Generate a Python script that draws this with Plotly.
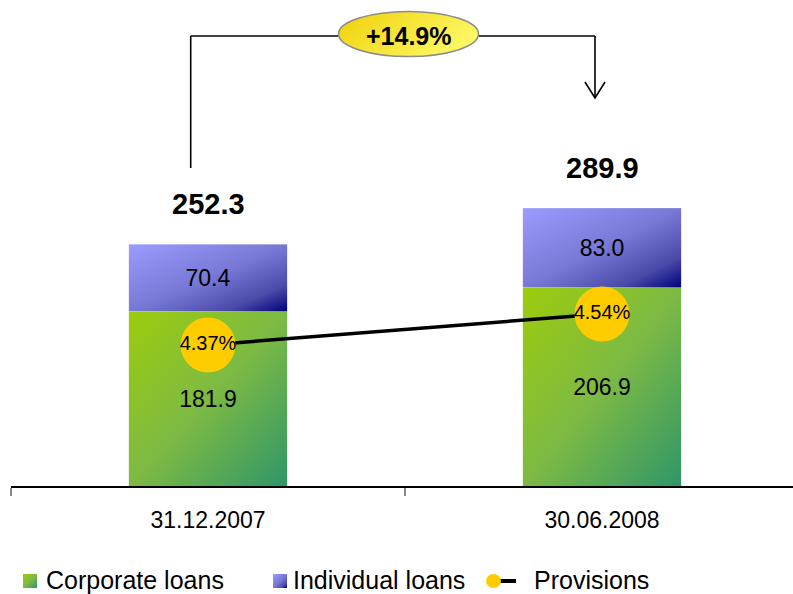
import base64
import plotly.graph_objects as go

# Loan portfolio by date (bn), with provisions ratio (%)
dates = ["31.12.2007", "30.06.2008"]
corporate = [181.9, 206.9]
individual = [70.4, 83.0]
provisions = [4.37, 4.54]

totals = [c + i for c, i in zip(corporate, individual)]
growth = (totals[-1] / totals[0] - 1) * 100

FONT = "Arial, Liberation Sans, sans-serif"
W, H = 793, 594
ML, MR, MT, MB = 11, 0, 0, 108
PW, PH = W - ML - MR, H - MT - MB
CAT_W = 394  # pixel width of one category slot
BAR_W = 0.403


def px(xp):
    return (xp - ML) / PW


def py(yp):
    return (MT + PH - yp) / PH


def svg_uri(svg):
    return "data:image/svg+xml;base64," + base64.b64encode(svg.encode()).decode()


def diag_gradient(stops):
    st = "".join(f"<stop offset='{o}' stop-color='{c}'/>" for o, c in stops)
    svg = ("<svg xmlns='http://www.w3.org/2000/svg' viewBox='0 0 100 100' "
           "width='100' height='100' preserveAspectRatio='none'>"
           "<defs><linearGradient id='g' x1='0' y1='0' x2='1' y2='1'>" + st +
           "</linearGradient></defs><rect width='100' height='100' fill='url(#g)'/></svg>")
    return svg_uri(svg)


GREEN = diag_gradient([(0, "#9ccc0c"), (0.5, "#7dba44"), (1, "#2f9669")])
PURPLE = diag_gradient([(0, "#9c9cff"), (0.5, "#7878d6"), (0.8, "#4a4aa8"), (1, "#00007e")])

ellipse_svg = (
    "<svg xmlns='http://www.w3.org/2000/svg' viewBox='0 0 144 48' width='144' height='48' "
    "preserveAspectRatio='none'><defs><linearGradient id='e' x1='0' y1='0.3' x2='1' y2='0.7'>"
    "<stop offset='0' stop-color='#f0d411'/><stop offset='1' stop-color='#fffb6a'/>"
    "</linearGradient></defs><ellipse cx='72' cy='24' rx='70.5' ry='22.5' fill='url(#e)' "
    "stroke='#8c8c8c' stroke-width='1.6'/></svg>")

fig = go.Figure()

fig.add_trace(go.Bar(
    x=dates, y=corporate, name="Corporate loans",
    marker=dict(color="rgba(0,0,0,0)", line=dict(width=0)),
    text=[f"{v:.1f}" for v in corporate], textposition="inside",
    insidetextanchor="middle", textangle=0, constraintext="none",
    textfont=dict(family=FONT, size=23, color="black"),
    showlegend=False, hoverinfo="skip",
))
fig.add_trace(go.Bar(
    x=dates, y=individual, name="Individual loans",
    marker=dict(color="rgba(0,0,0,0)", line=dict(width=0)),
    text=[f"{v:.1f}" for v in individual], textposition="inside",
    insidetextanchor="middle", textangle=0, constraintext="none",
    textfont=dict(family=FONT, size=23, color="black"),
    showlegend=False, hoverinfo="skip",
))
fig.add_trace(go.Scatter(
    x=dates, y=provisions, yaxis="y2", name="Provisions",
    mode="lines+markers+text",
    line=dict(color="black", width=3.5),
    marker=dict(size=55, color="#ffcc00", line=dict(width=0)),
    text=[f"{v:.2f}%" for v in provisions], textposition="middle center",
    textfont=dict(family=FONT, size=20, color="black"),
    showlegend=False, hoverinfo="skip",
))

# Gradient fills for the stacked bars, sized in data units
images = []
for i in range(len(dates)):
    images.append(dict(source=GREEN, xref="x", yref="y", x=i - BAR_W / 2, y=corporate[i],
                       sizex=BAR_W, sizey=corporate[i], sizing="stretch",
                       xanchor="left", yanchor="top", layer="below"))
    images.append(dict(source=PURPLE, xref="x", yref="y", x=i - BAR_W / 2, y=totals[i],
                       sizex=BAR_W, sizey=individual[i], sizing="stretch",
                       xanchor="left", yanchor="top", layer="below"))

# Growth bubble
images.append(dict(source=svg_uri(ellipse_svg), xref="paper", yref="paper",
                   x=px(337), y=py(10), sizex=143 / PW, sizey=48 / PH,
                   sizing="stretch", xanchor="left", yanchor="top", layer="above"))

# Legend swatches
images.append(dict(source=GREEN, xref="paper", yref="paper", x=px(23), y=py(574),
                   sizex=14 / PW, sizey=14 / PH, sizing="stretch",
                   xanchor="left", yanchor="top", layer="above"))
images.append(dict(source=PURPLE, xref="paper", yref="paper", x=px(273), y=py(574),
                   sizex=14 / PW, sizey=14 / PH, sizing="stretch",
                   xanchor="left", yanchor="top", layer="above"))

annotations = []
for i, t in enumerate(totals):
    annotations.append(dict(x=i, y=t, xref="x", yref="y", text=f"<b>{t:.1f}</b>",
                            showarrow=False, yanchor="middle", yshift=40,
                            font=dict(family=FONT, size=29, color="black")))

annotations.append(dict(x=px(409), y=py(36), xref="paper", yref="paper",
                        text=f"<b>+{growth:.1f}%</b>", showarrow=False,
                        xanchor="center", yanchor="middle",
                        font=dict(family=FONT, size=25, color="black")))

for label, x0 in [("Corporate loans", 44), ("Individual loans", 291), ("Provisions", 532)]:
    annotations.append(dict(x=px(x0), y=py(580), xref="paper", yref="paper", text=label,
                            showarrow=False, xanchor="left", yanchor="middle",
                            font=dict(family=FONT, size=25, color="black")))

line_style = dict(color="black", width=1.6)
shapes = [
    # bracket from the first total to the second
    dict(type="line", xref="paper", yref="paper", x0=px(190.7), y0=py(168),
         x1=px(190.7), y1=py(36), line=line_style),
    dict(type="line", xref="paper", yref="paper", x0=px(190.7), y0=py(36),
         x1=px(338), y1=py(36), line=line_style),
    dict(type="line", xref="paper", yref="paper", x0=px(479), y0=py(36),
         x1=px(595), y1=py(36), line=line_style),
    dict(type="line", xref="paper", yref="paper", x0=px(595), y0=py(36),
         x1=px(595), y1=py(98), line=line_style),
    dict(type="path", xref="paper", yref="paper",
         path=f"M {px(585)},{py(82)} L {px(595)},{py(98)} L {px(605)},{py(82)}",
         line=line_style),
    # provisions legend symbol
    dict(type="line", xref="paper", yref="paper", x0=px(500), y0=py(581),
         x1=px(516), y1=py(581), line=dict(color="black", width=4)),
    dict(type="circle", xref="paper", yref="paper", x0=px(486), y0=py(574),
         x1=px(501), y1=py(588), fillcolor="#ffcc00", line=dict(width=0)),
]

fig.update_layout(
    width=W, height=H, autosize=False,
    margin=dict(l=ML, r=MR, t=MT, b=MB),
    barmode="stack", bargap=1 - BAR_W,
    paper_bgcolor="white", plot_bgcolor="rgba(0,0,0,0)",
    font=dict(family=FONT, color="black"),
    xaxis=dict(type="category", range=[-0.5, -0.5 + PW / CAT_W],
               showline=True, linecolor="black", linewidth=2,
               ticks="outside", tickson="boundaries", ticklen=8, tickwidth=2,
               tickcolor="#8a8a8a", showgrid=False, zeroline=False,
               tickfont=dict(family=FONT, size=23, color="black"),
               ticklabelstandoff=12, fixedrange=True),
    yaxis=dict(range=[0, 507], visible=False, fixedrange=True),
    yaxis2=dict(range=[3.597, 6.261], overlaying="y", visible=False, fixedrange=True),
    showlegend=False,
    images=images, annotations=annotations, shapes=shapes,
)

fig.write_html("out.html")
